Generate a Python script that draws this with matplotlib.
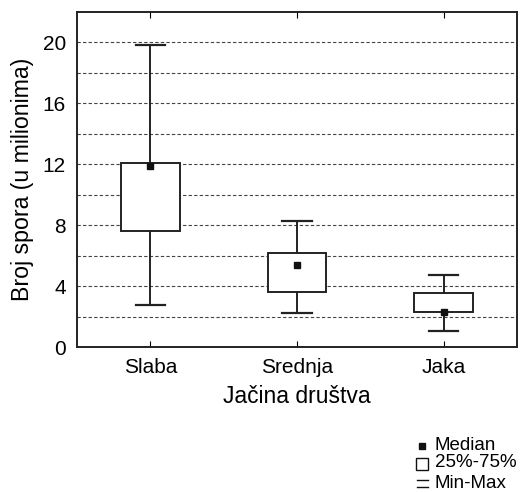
import matplotlib
matplotlib.use("Agg")
import matplotlib.pyplot as plt
from matplotlib.lines import Line2D

plt.rcParams['font.family'] = ['Liberation Sans', 'DejaVu Sans']

categories = ["Slaba", "Srednja", "Jaka"]
mins = [2.75, 2.25, 1.05]
q1 = [7.6, 3.6, 2.28]
medians = [11.9, 5.4, 2.3]
q3 = [12.05, 6.2, 3.55]
maxs = [19.8, 8.25, 4.7]
yticks = [0, 4, 8, 12, 16, 20]

fig = plt.figure(figsize=(5.24, 4.92), dpi=100)
ax = fig.add_axes([0.147, 0.2947, 0.8396, 0.681])

stats = []
for i, c in enumerate(categories):
    stats.append(dict(label=c, whislo=mins[i], q1=q1[i], med=medians[i],
                      q3=q3[i], whishi=maxs[i], fliers=[]))

lc = '#222222'
ax.bxp(stats, positions=[1, 2, 3], widths=0.4, showfliers=False,
       boxprops=dict(color=lc, linewidth=1.4),
       whiskerprops=dict(color=lc, linewidth=1.4),
       capprops=dict(color=lc, linewidth=1.6),
       medianprops=dict(linewidth=0), capwidths=0.2, zorder=3,
       patch_artist=True)
for p in ax.patches:
    p.set_facecolor('white')
    p.set_edgecolor(lc)
ax.plot([1, 2, 3], medians, 's', color='#111111', markersize=5, zorder=5)

ax.set_xlim(0.5, 3.5)
ax.set_ylim(0, 22)
ax.set_yticks(yticks)
for y in range(2, 21, 2):
    ax.axhline(y, color='#444444', linestyle=(0, (3, 2)), linewidth=0.8, zorder=1)
ax.tick_params(axis='y', which='both', length=0, labelsize=15, pad=8)
ax.tick_params(axis='x', length=4, direction='in', top=True, bottom=True, labelsize=15, pad=8)
ax.set_xticks([1, 2, 3])
ax.set_xticklabels(categories)
for s in ax.spines.values():
    s.set_linewidth(1.4)
    s.set_color(lc)
ax.set_xlabel("Jačina društva", fontsize=16.5, labelpad=6)
ax.set_ylabel("Broj spora (u milionima)", fontsize=16.7, labelpad=6)

# legend
fs = 13.5
fig.text(0.830, 0.0955, "Median", fontsize=fs, va='center')
fig.text(0.830, 0.059, "25%-75%", fontsize=fs, va='center')
fig.text(0.830, 0.018, "Min-Max", fontsize=fs, va='center')
fig.add_artist(Line2D([0.806], [0.0935], marker='s', markersize=4, color='#111111', transform=fig.transFigure))
fig.add_artist(Line2D([0.806], [0.056], marker='s', markersize=8, markerfacecolor='white',
                      markeredgecolor='#111111', markeredgewidth=1, transform=fig.transFigure))
fig.add_artist(Line2D([0.7955, 0.8165], [0.024, 0.024], color='#111111', linewidth=1, transform=fig.transFigure))
fig.add_artist(Line2D([0.7955, 0.8165], [0.010, 0.010], color='#111111', linewidth=1, transform=fig.transFigure))

fig.savefig("out.png", dpi=100)
